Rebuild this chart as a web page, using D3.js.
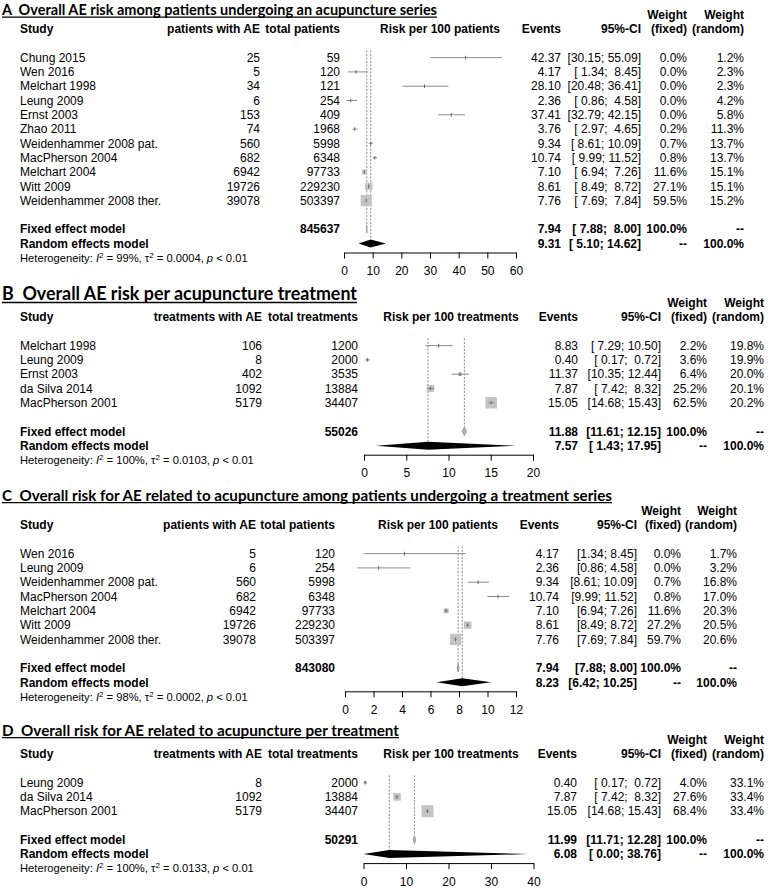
<!DOCTYPE html>
<html lang="en">
<head>
<meta charset="utf-8">
<title>AE risk with acupuncture - forest plots</title>
<style>
   html,body { margin:0; padding:0; background:white; }
   svg { display:block; font-family:"Liberation Sans",Arial,sans-serif; font-size:12px; }
   text { white-space:pre; fill:black; }
   .title { font-family:Lato,"Open Sans",sans-serif; font-weight:bold; }
   .het { font-size:11.2px; }
</style>
<script src="https://d3js.org/d3.v7.min.js"></script>
</head>
<body>
<script>
// ---- panel A : patients undergoing an acupuncture series
const aStudies = ['Chung 2015','Wen 2016','Melchart 1998','Leung 2009','Ernst 2003','Zhao 2011',
   'Weidenhammer 2008 pat.','MacPherson 2004','Melchart 2004','Witt 2009','Weidenhammer 2008 ther.'];
const aWithAE = [25,5,34,6,153,74,560,682,6942,19726,39078];
const aTotal = [59,120,121,254,409,1968,5998,6348,97733,229230,503397];
const aEst = [42.37,4.17,28.10,2.36,37.41,3.76,9.34,10.74,7.10,8.61,7.76];
const aLo = [30.15,1.34,20.48,0.86,32.79,2.97,8.61,9.99,6.94,8.49,7.69];
const aHi = [55.09,8.45,36.41,4.58,42.15,4.65,10.09,11.52,7.26,8.72,7.84];
const aWFixed = [0.0,0.0,0.0,0.0,0.0,0.2,0.7,0.8,11.6,27.1,59.5];
const aWRandom = [1.2,2.3,2.3,4.2,5.8,11.3,13.7,13.7,15.1,15.1,15.2];
const aFixed = [7.94,7.88,8.00];
const aRandom = [9.31,5.10,14.62];
const aTotalN = 845637;
const aHet = ['99%','0.0004','0.01'];
const aTicks = [0,10,20,30,40,50,60];

// ---- panel B : per acupuncture treatment
const bStudies = ['Melchart 1998','Leung 2009','Ernst 2003','da Silva 2014','MacPherson 2001'];
const bWithAE = [106,8,402,1092,5179];
const bTotal = [1200,2000,3535,13884,34407];
const bEst = [8.83,0.40,11.37,7.87,15.05];
const bLo = [7.29,0.17,10.35,7.42,14.68];
const bHi = [10.50,0.72,12.44,8.32,15.43];
const bWFixed = [2.2,3.6,6.4,25.2,62.5];
const bWRandom = [19.8,19.9,20.0,20.1,20.2];
const bFixed = [11.88,11.61,12.15];
const bRandom = [7.57,1.43,17.95];
const bTotalN = 55026;
const bHet = ['100%','0.0103','0.01'];
const bTicks = [0,5,10,15,20];

// ---- panel C : AE related to acupuncture, treatment series
const cStudies = ['Wen 2016','Leung 2009','Weidenhammer 2008 pat.','MacPherson 2004','Melchart 2004',
   'Witt 2009','Weidenhammer 2008 ther.'];
const cWithAE = [5,6,560,682,6942,19726,39078];
const cTotal = [120,254,5998,6348,97733,229230,503397];
const cEst = [4.17,2.36,9.34,10.74,7.10,8.61,7.76];
const cLo = [1.34,0.86,8.61,9.99,6.94,8.49,7.69];
const cHi = [8.45,4.58,10.09,11.52,7.26,8.72,7.84];
const cWFixed = [0.0,0.0,0.7,0.8,11.6,27.2,59.7];
const cWRandom = [1.7,3.2,16.8,17.0,20.3,20.5,20.6];
const cFixed = [7.94,7.88,8.00];
const cRandom = [8.23,6.42,10.25];
const cTotalN = 843080;
const cHet = ['98%','0.0002','0.01'];
const cTicks = [0,2,4,6,8,10,12];

// ---- panel D : AE related to acupuncture, per treatment
const dStudies = ['Leung 2009','da Silva 2014','MacPherson 2001'];
const dWithAE = [8,1092,5179];
const dTotal = [2000,13884,34407];
const dEst = [0.40,7.87,15.05];
const dLo = [0.17,7.42,14.68];
const dHi = [0.72,8.32,15.43];
const dWFixed = [4.0,27.6,68.4];
const dWRandom = [33.1,33.4,33.4];
const dFixed = [11.99,11.71,12.28];
const dRandom = [6.08,0.00,38.76];
const dTotalN = 50291;
const dHet = ['100%','0.0133','0.01'];
const dTicks = [0,10,20,30,40];

const STEP = 14.3;

let panels = [
   {letter:'A', title:'Overall AE risk among patients undergoing an acupuncture series', titleY:9.5, titleW:435, titleSize:16, headY:29,
    colAE:'patients with AE', colTot:'total patients', risk:'Risk per 100 patients',
    studies:aStudies, withAE:aWithAE, total:aTotal, est:aEst, lo:aLo, hi:aHi, wf:aWFixed, wr:aWRandom,
    fixed:aFixed, random:aRandom, totalN:aTotalN, het:aHet, ticks:aTicks, pad:5,
    xAE:260, xTot:340, xRisk:440, range:[344,516], xEv:561, xCI:641, xWF:687, xWR:744},
   {letter:'B', title:'Overall AE risk per acupuncture treatment', titleY:294, titleW:355, titleSize:18, headY:317,
    colAE:'treatments with AE', colTot:'total treatments', risk:'Risk per 100 treatments',
    studies:bStudies, withAE:bWithAE, total:bTotal, est:bEst, lo:bLo, hi:bHi, wf:bWFixed, wr:bWRandom,
    fixed:bFixed, random:bRandom, totalN:bTotalN, het:bHet, ticks:bTicks, pad:5,
    xAE:262, xTot:358, xRisk:451, range:[364,533], xEv:578, xCI:661, xWF:707, xWR:764},
   {letter:'C', title:'Overall risk for AE related to acupuncture among patients undergoing a treatment series', titleY:495, titleW:610, titleSize:16, headY:525,
    colAE:'patients with AE', colTot:'total patients', risk:'Risk per 100 patients',
    studies:cStudies, withAE:cWithAE, total:cTotal, est:cEst, lo:cLo, hi:cHi, wf:cWFixed, wr:cWRandom,
    fixed:cFixed, random:cRandom, totalN:cTotalN, het:cHet, ticks:cTicks, pad:0,
    xAE:256, xTot:335, xRisk:438, range:[345,516], xEv:559, xCI:637, xWF:681, xWR:737},
   {letter:'D', title:'Overall risk for AE related to acupuncture per treatment', titleY:730, titleW:397, titleSize:16, headY:754,
    colAE:'treatments with AE', colTot:'total treatments', risk:'Risk per 100 treatments',
    studies:dStudies, withAE:dWithAE, total:dTotal, est:dEst, lo:dLo, hi:dHi, wf:dWFixed, wr:dWRandom,
    fixed:dFixed, random:dRandom, totalN:dTotalN, het:dHet, ticks:dTicks, pad:5,
    xAE:262, xTot:358, xRisk:451, range:[363.5,533.5], xEv:577, xCI:661, xWF:707, xWR:764},
];

const svg = d3.select('body').append('svg').attr('width',768).attr('height',890);

function ftext(g,str,x,y,anchor='start',bold=false) {
   return g.append('text').attr('x',x).attr('y',y).attr('dy','0.35em')
      .attr('text-anchor',anchor).attr('font-weight',bold?'bold':null).text(str);
};
function fci(lo,hi,pad) {
   let a = lo.toFixed(2), b = hi.toFixed(2);
   if (pad) { a = a.padStart(pad); b = b.padStart(pad); };
   return '['+a+'; '+b+']';
};
function fdiamond(x,v,y,h) {
   return [[x(v[1]),y],[x(v[0]),y-h],[x(v[2]),y],[x(v[0]),y+h]].map(p => p.join(',')).join(' ');
};

function fpanel(p) {
   let g = svg.append('g');
   let hy = p.headY;
   let n = p.studies.length;
   let rowY = i => hy + STEP*(i+2);
   let x = d3.scaleLinear().domain([p.ticks[0], p.ticks[p.ticks.length-1]]).range(p.range);

   // title, underlined
   g.append('text').attr('class','title').attr('font-size',p.titleSize)
      .attr('x',2).attr('y',p.titleY).attr('dy','0.35em')
      .attr('textLength',p.titleW).attr('lengthAdjust','spacingAndGlyphs')
      .text(p.letter+'  '+p.title);
   let uy = p.titleY + p.titleSize*0.47;
   g.append('line').attr('x1',2).attr('x2',2+p.titleW).attr('y1',uy).attr('y2',uy)
      .attr('stroke','black').attr('stroke-width',p.titleSize/13);

   // column headers
   ftext(g,'Study',20,hy,'start',true);
   ftext(g,p.colAE,p.xAE,hy,'end',true);
   ftext(g,p.colTot,p.xTot,hy,'end',true);
   ftext(g,p.risk,p.xRisk,hy,'middle',true);
   ftext(g,'Events',p.xEv,hy,'end',true);
   ftext(g,'95%-CI',p.xCI,hy,'end',true);
   ftext(g,'Weight',p.xWF,hy-14.5,'end',true);
   ftext(g,'(fixed)',p.xWF,hy,'end',true);
   ftext(g,'Weight',p.xWR,hy-14.5,'end',true);
   ftext(g,'(random)',p.xWR,hy,'end',true);

   // study rows text
   for (let i=0;i<n;i++) {
      let y = rowY(i);
      ftext(g,p.studies[i],20,y);
      ftext(g,String(p.withAE[i]),p.xAE,y,'end');
      ftext(g,String(p.total[i]),p.xTot,y,'end');
      ftext(g,p.est[i].toFixed(2),p.xEv,y,'end');
      ftext(g,fci(p.lo[i],p.hi[i],p.pad),p.xCI,y,'end');
      ftext(g,p.wf[i].toFixed(1)+'%',p.xWF,y,'end');
      ftext(g,p.wr[i].toFixed(1)+'%',p.xWR,y,'end');
   };
   // summary rows text
   let yF = rowY(n+1), yR = rowY(n+2), yH = rowY(n+3);
   ftext(g,'Fixed effect model',20,yF,'start',true);
   ftext(g,String(p.totalN),p.xTot,yF,'end',true);
   ftext(g,p.fixed[0].toFixed(2),p.xEv,yF,'end',true);
   ftext(g,fci(p.fixed[1],p.fixed[2],p.pad),p.xCI,yF,'end',true);
   ftext(g,'100.0%',p.xWF,yF,'end',true);
   ftext(g,'--',p.xWR,yF,'end',true);
   ftext(g,'Random effects model',20,yR,'start',true);
   ftext(g,p.random[0].toFixed(2),p.xEv,yR,'end',true);
   ftext(g,fci(p.random[1],p.random[2],p.pad),p.xCI,yR,'end',true);
   ftext(g,'--',p.xWF,yR,'end',true);
   ftext(g,'100.0%',p.xWR,yR,'end',true);

   // heterogeneity line
   let het = g.append('text').attr('class','het').attr('x',20).attr('y',yH).attr('dy','0.35em');
   het.append('tspan').text('Heterogeneity: ');
   het.append('tspan').attr('font-style','italic').text('I');
   het.append('tspan').attr('dy',-4).attr('font-size',8).text('2');
   het.append('tspan').attr('dy',4).text(' = '+p.het[0]+', \u03c4');
   het.append('tspan').attr('dy',-4).attr('font-size',8).text('2');
   het.append('tspan').attr('dy',4).text(' = '+p.het[1]+', ');
   het.append('tspan').attr('font-style','italic').text('p');
   het.append('tspan').text(' < '+p.het[2]);

   // reference lines (fixed, random)
   let yTop = rowY(0) - STEP/2;
   g.append('line').attr('x1',x(p.fixed[0])).attr('x2',x(p.fixed[0])).attr('y1',yTop).attr('y2',yF-4)
      .attr('stroke','#8a8a8a').attr('stroke-dasharray','2,1.5');
   g.append('line').attr('x1',x(p.random[0])).attr('x2',x(p.random[0])).attr('y1',yTop).attr('y2',yR-4)
      .attr('stroke','#8a8a8a').attr('stroke-dasharray','2,1.5');

   // study squares, CI lines and estimate ticks
   let rows = p.studies.map((s,i) => ({i:i, est:p.est[i], lo:p.lo[i], hi:p.hi[i], wf:p.wf[i]}));
   g.append('g').selectAll('rect').data(rows).join('rect')
      .attr('x', d => x(d.est) - 7.25*Math.sqrt(d.wf/100))
      .attr('y', d => rowY(d.i) - 7.25*Math.sqrt(d.wf/100))
      .attr('width', d => 14.5*Math.sqrt(d.wf/100))
      .attr('height', d => 14.5*Math.sqrt(d.wf/100))
      .attr('fill','#c4c4c4');
   g.append('g').selectAll('line').data(rows).join('line')
      .attr('x1', d => x(d.lo)).attr('x2', d => x(d.hi))
      .attr('y1', d => rowY(d.i)).attr('y2', d => rowY(d.i))
      .attr('stroke','#8c8c8c');
   g.append('g').selectAll('line').data(rows).join('line')
      .attr('x1', d => x(d.est)).attr('x2', d => x(d.est))
      .attr('y1', d => rowY(d.i)-1.8).attr('y2', d => rowY(d.i)+1.8)
      .attr('stroke','#6a6a6a');

   // summary diamonds
   g.append('polygon').attr('points',fdiamond(x,p.fixed,yF,4))
      .attr('fill','#b4b4b4').attr('stroke','#8a8a8a').attr('stroke-width',0.8);
   g.append('polygon').attr('points',fdiamond(x,p.random,yR,4)).attr('fill','black');

   // x axis
   let ax = g.append('g').attr('transform','translate(0,'+(yR+9)+')')
      .call(d3.axisBottom(x).tickValues(p.ticks).tickSize(6).tickSizeOuter(0).tickPadding(8));
   ax.attr('font-size',12).attr('font-family','inherit');
   ax.selectAll('path,line').attr('stroke','black');
};

for (let p of panels) { fpanel(p); };
</script>
</body>
</html>
